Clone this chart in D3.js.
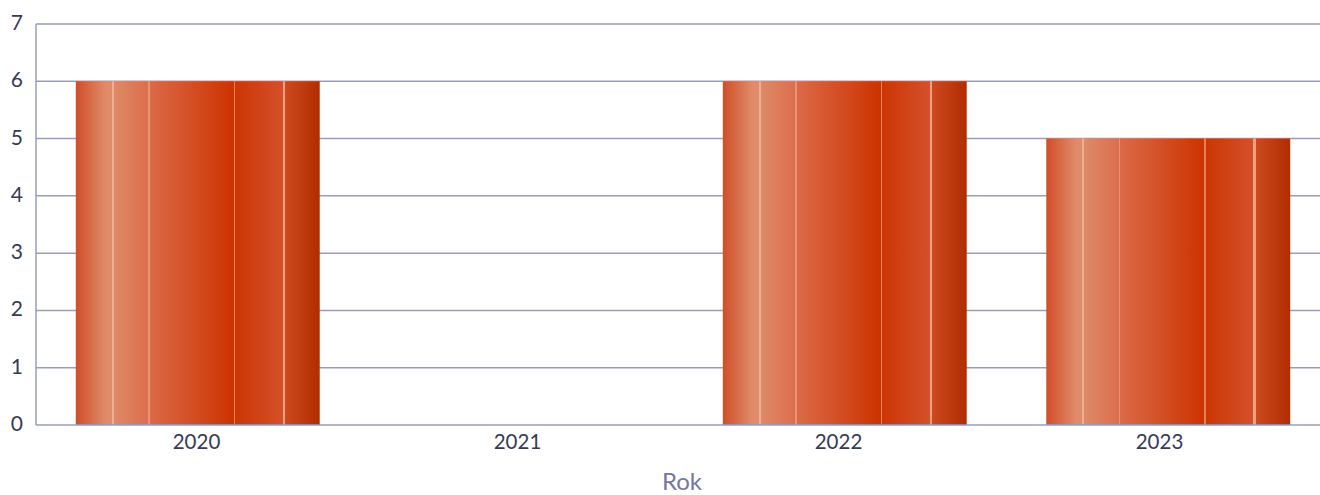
<!DOCTYPE html>
<html><head><meta charset="utf-8">
<script src="https://cdn.jsdelivr.net/npm/d3@7"></script>
<style>body{margin:0;background:#fff;}svg{display:block;}</style>
</head><body>
<svg id="c" width="1320" height="495"></svg>
<script>
const categories = ["2020", "2021", "2022", "2023"];
const values = [6, 0, 6, 5];
const yTicks = [0, 1, 2, 3, 4, 5, 6, 7];
const axisTitle = "Rok";

(function () {
const svg = d3.select("#c");
const W = 1320;
const mLeft = 36, mTop = 24, mBottom = 425;

const y = d3.scaleLinear().domain([0, 7]).range([mBottom, mTop]);
const xAxis = d3.scaleBand().domain(categories).range([mLeft, W]);
const xBar = d3.scaleBand().domain(categories).range([mLeft, 1330]).paddingInner(0.246).paddingOuter(0.123);

const defs = svg.append("defs");
const g = defs.append("linearGradient").attr("id", "bg").attr("x1", "0").attr("x2", "1").attr("y1", "0").attr("y2", "0");
const stops = [
  [0, "#d04e28"], [0.12, "#e08a68"], [0.147, "#e08c6c"], [0.147, "#eeb094"], [0.155, "#eeb094"], [0.155, "#de8a68"],
  [0.297, "#dc6e4c"], [0.297, "#e89474"], [0.304, "#e89474"], [0.304, "#db6a48"],
  [0.647, "#cc3300"], [0.647, "#e8805c"], [0.654, "#e8805c"], [0.654, "#cc3604"],
  [0.848, "#d4502a"], [0.848, "#eea080"], [0.858, "#eea080"], [0.858, "#cc4a20"],
  [1, "#b22c00"]
];
stops.forEach(s => g.append("stop").attr("offset", s[0]).attr("stop-color", s[1]));

svg.append("g").selectAll("line").data(yTicks.filter(d => d > 0)).join("line")
  .attr("x1", mLeft).attr("x2", W).attr("y1", d => y(d)).attr("y2", d => y(d))
  .attr("stroke", "#9a9cbc").attr("stroke-width", 1.5);

svg.append("g").selectAll("rect").data(categories.map((c, i) => ({c, v: values[i]})).filter(d => d.v > 0)).join("rect")
  .attr("x", d => xBar(d.c)).attr("width", xBar.bandwidth())
  .attr("y", d => y(d.v)).attr("height", d => y(0) - y(d.v))
  .attr("fill", "url(#bg)");

svg.append("line").attr("x1", mLeft).attr("x2", mLeft).attr("y1", mTop).attr("y2", mBottom)
  .attr("stroke", "#9a9cbc").attr("stroke-width", 1.5);
svg.append("line").attr("x1", mLeft).attr("x2", W).attr("y1", mBottom).attr("y2", mBottom)
  .attr("stroke", "#9a9cbc").attr("stroke-width", 1.5);

const font = "Lato, 'Open Sans', sans-serif";
svg.append("g").selectAll("text").data(yTicks).join("text")
  .attr("x", 23).attr("y", d => y(d) + 6)
  .attr("text-anchor", "end").attr("font-family", font).attr("font-size", 21)
  .attr("fill", "#363b56").text(d => d);

svg.append("g").selectAll("text").data(categories).join("text")
  .attr("x", d => xAxis(d) + xAxis.bandwidth() / 2).attr("y", 449)
  .attr("text-anchor", "middle").attr("font-family", font).attr("font-size", 20.5)
  .attr("fill", "#363b56").text(d => d);

svg.append("text").attr("x", 682).attr("y", 490).attr("text-anchor", "middle")
  .attr("font-family", font).attr("font-size", 24).attr("fill", "#7478a0").text(axisTitle);
})();
</script>
</body></html>
